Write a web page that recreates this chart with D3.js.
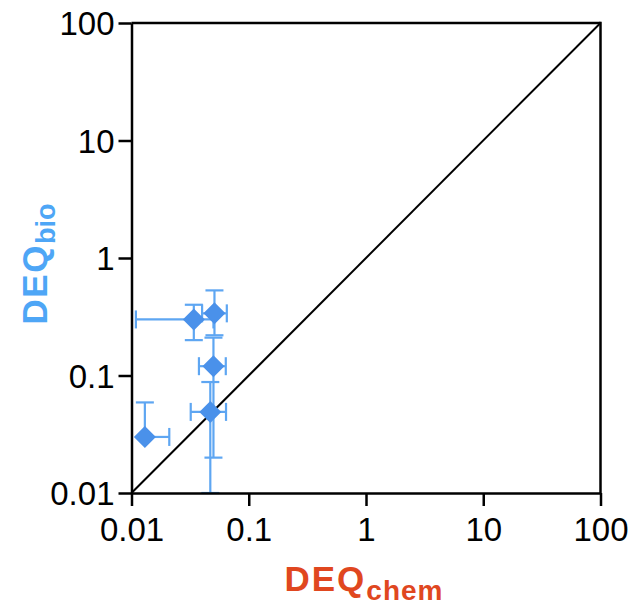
<!DOCTYPE html>
<html>
<head>
<meta charset="utf-8">
<script src="https://cdn.jsdelivr.net/npm/d3@7"></script>
<style>
html,body{margin:0;padding:0;background:#fff;}
svg{display:block;font-family:Arial,"Liberation Sans",Helvetica,sans-serif;}
</style>
</head>
<body>
<svg id="chart" width="635" height="606"></svg>
<script>
// ---- data ----
const pointNames = ["A", "B", "C", "D", "E"];
const deqChem    = [0.013, 0.034, 0.051, 0.050, 0.047];
const deqBio     = [0.030, 0.300, 0.338, 0.120, 0.049];
const chemLow    = [0.013, 0.0109, 0.040, 0.0376, 0.032];
const chemHigh   = [0.021, 0.050, 0.065, 0.0637, 0.064];
const bioLow     = [0.030, 0.200, 0.220, 0.020, 0.0095];
const bioHigh    = [0.059, 0.400, 0.530, 0.210, 0.088];
const tickValues = [0.01, 0.1, 1, 10, 100];
const tickLabels = ["0.01", "0.1", "1", "10", "100"];
const axisDomain = [0.01, 100];

// ---- layout ----
const svg = d3.select("#chart");
const L = 131.5, R = 600.5, T = 23, B = 493;
const x = d3.scaleLog().domain(axisDomain).range([L, R]);
const y = d3.scaleLog().domain(axisDomain).range([B, T]);
const blueMark = "#4a91ea", blueErr = "#5ea6f2", blueLabel = "#4ea6f6", red = "#e0471f";

const data = pointNames.map((n, i) => ({
  n, x: deqChem[i], y: deqBio[i],
  xl: chemLow[i], xh: chemHigh[i], yl: Math.max(bioLow[i], axisDomain[0]), yh: bioHigh[i]
}));

// diagonal 1:1 line
svg.append("line")
  .attr("x1", x(axisDomain[0])).attr("y1", y(axisDomain[0]))
  .attr("x2", x(axisDomain[1])).attr("y2", y(axisDomain[1]))
  .attr("stroke", "#000").attr("stroke-width", 2);

// error bars
const cap = 9;
const eg = svg.append("g").attr("stroke", blueErr).attr("stroke-width", 2.2).attr("fill", "none");
data.forEach(d => {
  const cx = x(d.x), cy = y(d.y);
  eg.append("line").attr("x1", cx).attr("x2", cx).attr("y1", y(d.yl)).attr("y2", y(d.yh));
  if (d.yh > d.y) eg.append("line").attr("x1", cx - cap).attr("x2", cx + cap).attr("y1", y(d.yh)).attr("y2", y(d.yh));
  if (d.yl < d.y) eg.append("line").attr("x1", cx - cap).attr("x2", cx + cap).attr("y1", y(d.yl)).attr("y2", y(d.yl));
  eg.append("line").attr("y1", cy).attr("y2", cy).attr("x1", x(d.xl)).attr("x2", x(d.xh));
  if (d.xh > d.x) eg.append("line").attr("y1", cy - cap).attr("y2", cy + cap).attr("x1", x(d.xh)).attr("x2", x(d.xh));
  if (d.xl < d.x) eg.append("line").attr("y1", cy - cap).attr("y2", cy + cap).attr("x1", x(d.xl)).attr("x2", x(d.xl));
});

// diamonds
const r = 11;
svg.append("g").selectAll("path").data(data).join("path")
  .attr("d", d => {
    const cx = x(d.x), cy = y(d.y);
    return `M${cx},${cy - r}L${cx + r},${cy}L${cx},${cy + r}L${cx - r},${cy}Z`;
  })
  .attr("fill", blueMark);

// axes
const fmt = v => tickLabels[tickValues.indexOf(v)];
const xAxis = d3.axisBottom(x).tickValues(tickValues).tickFormat(fmt).tickSize(13).tickSizeOuter(0).tickPadding(12);
const yAxis = d3.axisLeft(y).tickValues(tickValues).tickFormat(fmt).tickSize(13).tickSizeOuter(0).tickPadding(4);

const gx = svg.append("g").attr("transform", `translate(0,${B})`).call(xAxis);
const gy = svg.append("g").attr("transform", `translate(${L},0)`).call(yAxis);
[gx, gy].forEach(g => {
  g.select(".domain").attr("stroke", "#000").attr("stroke-width", 2.5);
  g.selectAll(".tick line").attr("stroke", "#000").attr("stroke-width", 2.5);
  g.selectAll(".tick text").attr("fill", "#000").attr("font-size", 33)
    .attr("font-family", "Arial, 'Liberation Sans', sans-serif");
});
gy.selectAll(".tick text").attr("dy", "0.36em");

// frame top & right
svg.append("line").attr("x1", L).attr("x2", R).attr("y1", T).attr("y2", T).attr("stroke", "#000").attr("stroke-width", 2.5);
svg.append("line").attr("x1", R).attr("x2", R).attr("y1", T - 1.25).attr("y2", B).attr("stroke", "#000").attr("stroke-width", 2.5);

// axis titles
const xt = svg.append("text").attr("x", (L + R) / 2 - 2).attr("y", 591)
  .attr("text-anchor", "middle").attr("fill", red).attr("font-weight", "bold");
xt.append("tspan").attr("font-size", 35).attr("letter-spacing", 2).text("DEQ");
xt.append("tspan").attr("font-size", 28).attr("dy", 9).attr("letter-spacing", 1).text("chem");

const yt = svg.append("text").attr("transform", `translate(47,264) rotate(-90)`)
  .attr("text-anchor", "middle").attr("fill", blueLabel).attr("font-weight", "bold");
yt.append("tspan").attr("font-size", 35).attr("letter-spacing", 1.5).text("DEQ");
yt.append("tspan").attr("font-size", 27).attr("dy", 8).text("bio");
</script>
</body>
</html>
